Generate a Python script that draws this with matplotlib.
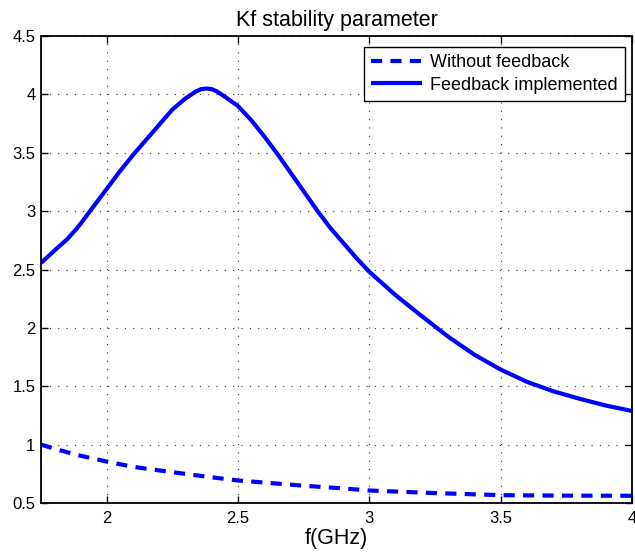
import matplotlib
matplotlib.use("Agg")
import matplotlib.pyplot as plt

plt.rcParams['font.family'] = ['Liberation Sans', 'DejaVu Sans']
plt.rcParams['lines.scale_dashes'] = False

# Frequency grid (GHz) and Kf values
freq_fb = [1.75, 1.80, 1.85, 1.886, 1.90, 1.95, 2.00, 2.05, 2.10, 2.15, 2.20,
           2.25, 2.30, 2.32, 2.34, 2.36, 2.38, 2.40, 2.42, 2.45, 2.50, 2.55,
           2.60, 2.65, 2.70, 2.75, 2.80, 2.85, 2.90, 2.95, 3.00, 3.10, 3.20,
           3.30, 3.40, 3.50, 3.60, 3.70, 3.80, 3.90, 4.00]
kf_feedback = [2.556, 2.66, 2.76, 2.85, 2.89, 3.04, 3.19, 3.34, 3.48, 3.61, 3.74,
               3.87, 3.965, 3.995, 4.025, 4.045, 4.05, 4.045, 4.025, 3.98, 3.90,
               3.78, 3.64, 3.49, 3.33, 3.17, 3.01, 2.86, 2.73, 2.60, 2.48, 2.28,
               2.10, 1.925, 1.77, 1.643, 1.538, 1.457, 1.393, 1.335, 1.288]

freq_nofb = [1.75, 1.80, 1.90, 2.00, 2.10, 2.25, 2.40, 2.50, 2.60, 2.75, 2.90,
             3.00, 3.25, 3.50, 3.75, 4.00]
kf_no_feedback = [1.0, 0.965, 0.905, 0.855, 0.81, 0.764, 0.72, 0.693, 0.675,
                  0.648, 0.625, 0.607, 0.585, 0.567, 0.563, 0.562]

xticks = [2, 2.5, 3, 3.5, 4]
xtick_labels = ['2', '2.5', '3', '3.5', '4']
yticks = [0.5, 1, 1.5, 2, 2.5, 3, 3.5, 4, 4.5]
ytick_labels = ['0.5', '1', '1.5', '2', '2.5', '3', '3.5', '4', '4.5']

fig = plt.figure(figsize=(6.35, 5.59), dpi=100)
ax = fig.add_axes([41 / 635, 56 / 559, 591 / 635, 467 / 559])

ax.plot(freq_nofb, kf_no_feedback, color='#0000ff', lw=3.0,
        linestyle=(0, (8, 6)), dash_capstyle='butt', label='Without feedback')
ax.plot(freq_fb, kf_feedback, color='#0000ff', lw=3.0,
        solid_capstyle='butt', solid_joinstyle='round',
        label='Feedback implemented')

ax.set_xlim(1.75, 4.0)
ax.set_ylim(0.5, 4.5)
ax.set_xticks(xticks)
ax.set_xticklabels(xtick_labels)
ax.set_yticks(yticks)
ax.set_yticklabels(ytick_labels)

ax.grid(True, color='#333333', linestyle=(0, (0.8, 5.2)), linewidth=0.8)
ax.tick_params(direction='in', length=5, width=1.0, top=True, right=True,
               labelsize=12, colors='black')
ax.tick_params(axis='x', pad=6)
ax.tick_params(axis='y', pad=4)
for s in ax.spines.values():
    s.set_linewidth(1.3)
    s.set_color('black')

ax.set_title('Kf stability parameter', fontsize=15.5, pad=7)
ax.set_xlabel('f(GHz)', fontsize=15.5, labelpad=1)

leg = ax.legend(loc='upper right', bbox_to_anchor=(0.988, 0.9764),
                borderaxespad=0, fontsize=13, handlelength=2.8,
                handletextpad=0.45, borderpad=0.4, labelspacing=0.3,
                fancybox=False, framealpha=1, edgecolor='black')
leg.get_frame().set_linewidth(1.0)

fig.savefig('out.png', dpi=100)
